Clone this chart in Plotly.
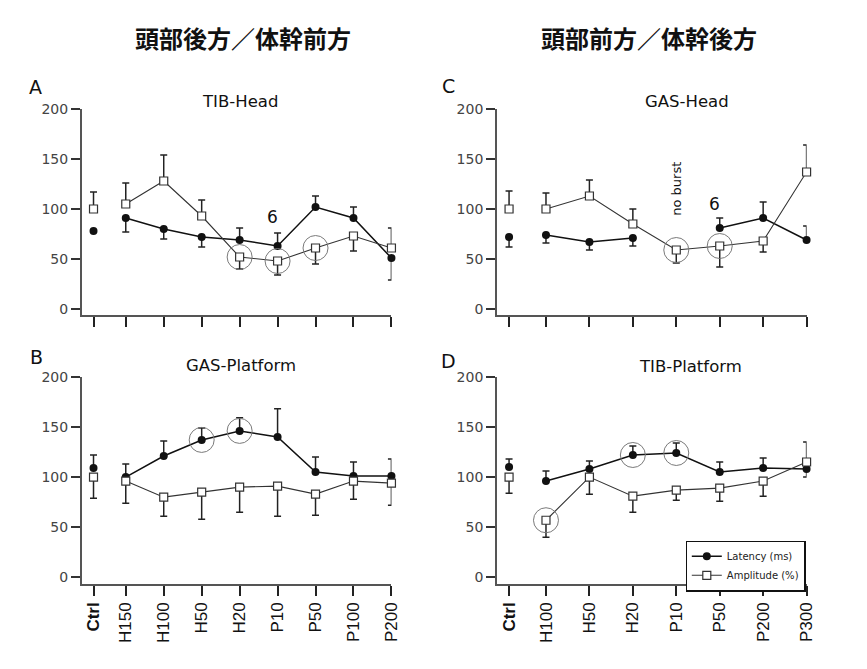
import plotly.graph_objects as go

# ---------------- data ----------------
cats_left = ["Ctrl", "H150", "H100", "H50", "H20", "P10", "P50", "P100", "P200"]
cats_right = ["Ctrl", "H100", "H50", "H20", "P10", "P50", "P200", "P300"]

# A: TIB-Head
a_lat = [78, 91, 80, 72, 69, 63, 102, 91, 51]
a_lat_up = [0, 0, 0, 0, 12, 13, 11, 11, 0]
a_lat_dn = [0, 14, 10, 10, 0, 0, 0, 0, 22]
a_amp = [100, 105, 128, 93, 52, 48, 61, 73, 61]
a_amp_up = [17, 21, 26, 16, 0, 0, 0, 0, 20]
a_amp_dn = [0, 0, 0, 0, 12, 14, 16, 15, 0]
a_hl_amp = ["H20", "P10", "P50"]
a_hl_lat = []

# B: GAS-Platform
b_lat = [109, 100, 121, 137, 146, 140, 105, 101, 101]
b_lat_up = [13, 13, 15, 12, 13, 28, 15, 14, 17]
b_lat_dn = [0, 0, 0, 0, 0, 0, 0, 0, 0]
b_amp = [100, 96, 80, 85, 90, 91, 83, 96, 94]
b_amp_up = [0, 0, 0, 0, 0, 0, 0, 0, 0]
b_amp_dn = [21, 22, 19, 27, 25, 30, 21, 18, 22]
b_hl_amp = []
b_hl_lat = ["H50", "H20"]

# C: GAS-Head
c_lat = [72, 74, 67, 71, None, 81, 91, 69]
c_lat_up = [0, 0, 0, 0, 0, 10, 16, 14]
c_lat_dn = [10, 8, 8, 8, 0, 0, 0, 0]
c_amp = [100, 100, 113, 85, 59, 63, 68, 137]
c_amp_up = [18, 16, 16, 15, 0, 0, 0, 27]
c_amp_dn = [0, 0, 0, 0, 13, 21, 11, 0]
c_hl_amp = ["P10", "P50"]
c_hl_lat = []

# D: TIB-Platform
d_lat = [110, 96, 108, 122, 124, 105, 109, 108]
d_lat_up = [8, 10, 8, 9, 10, 10, 10, 0]
d_lat_dn = [0, 0, 0, 0, 0, 0, 0, 8]
d_amp = [100, 57, 100, 81, 87, 89, 96, 115]
d_amp_up = [0, 0, 0, 0, 0, 0, 0, 20]
d_amp_dn = [16, 17, 17, 16, 10, 13, 15, 0]
d_hl_amp = ["H100"]
d_hl_lat = ["H20", "P10"]

y_ticks = [0, 50, 100, 150, 200]

# ---------------- layout constants ----------------
W, H = 867, 669
CTRL_POS = 0.15  # Ctrl sits a little closer to the first condition


def xpos(cats):
    return [CTRL_POS] + list(range(1, len(cats)))


FONT = "DejaVu Sans"
LAT_COLOR = "#111111"
AMP_LINE = "#333333"
ERR_COLOR = "#222222"

fig = go.Figure()

panels = [
    dict(cats=cats_left, lat=a_lat, lu=a_lat_up, ld=a_lat_dn, amp=a_amp, au=a_amp_up, ad=a_amp_dn,
         hla=a_hl_amp, hll=a_hl_lat, xa="x", ya="y"),
    dict(cats=cats_left, lat=b_lat, lu=b_lat_up, ld=b_lat_dn, amp=b_amp, au=b_amp_up, ad=b_amp_dn,
         hla=b_hl_amp, hll=b_hl_lat, xa="x2", ya="y2"),
    dict(cats=cats_right, lat=c_lat, lu=c_lat_up, ld=c_lat_dn, amp=c_amp, au=c_amp_up, ad=c_amp_dn,
         hla=c_hl_amp, hll=c_hl_lat, xa="x3", ya="y3"),
    dict(cats=cats_right, lat=d_lat, lu=d_lat_up, ld=d_lat_dn, amp=d_amp, au=d_amp_up, ad=d_amp_dn,
         hla=d_hl_amp, hll=d_hl_lat, xa="x4", ya="y4"),
]


def err(up, dn):
    return dict(type="data", symmetric=False, array=up, arrayminus=dn,
                color=ERR_COLOR, thickness=1.5, width=3.5)


lat_marker = dict(symbol="circle", size=8, color=LAT_COLOR, line=dict(width=0))
amp_marker = dict(symbol="square", size=8, color="white", line=dict(color="#333333", width=1.2))

for i, p in enumerate(panels):
    xs = xpos(p["cats"])
    show = (p["xa"] == "x4")
    # Latency: Ctrl alone, rest connected
    fig.add_trace(go.Scatter(x=xs[:1], y=p["lat"][:1], mode="markers", marker=lat_marker,
                             error_y=err(p["lu"][:1], p["ld"][:1]), xaxis=p["xa"], yaxis=p["ya"],
                             showlegend=False, cliponaxis=False))
    fig.add_trace(go.Scatter(x=xs[1:], y=p["lat"][1:], mode="lines+markers", marker=lat_marker,
                             line=dict(color=LAT_COLOR, width=1.5),
                             error_y=err(p["lu"][1:], p["ld"][1:]), xaxis=p["xa"], yaxis=p["ya"],
                             name="Latency (ms)", showlegend=show, cliponaxis=False))
    # Amplitude
    fig.add_trace(go.Scatter(x=xs[:1], y=p["amp"][:1], mode="markers", marker=amp_marker,
                             error_y=err(p["au"][:1], p["ad"][:1]), xaxis=p["xa"], yaxis=p["ya"],
                             showlegend=False, cliponaxis=False))
    fig.add_trace(go.Scatter(x=xs[1:], y=p["amp"][1:], mode="lines+markers", marker=amp_marker,
                             line=dict(color=AMP_LINE, width=1.1),
                             error_y=err(p["au"][1:], p["ad"][1:]), xaxis=p["xa"], yaxis=p["ya"],
                             name="Amplitude (%)", showlegend=show, cliponaxis=False))
    # highlight rings
    hx, hy = [], []
    for c in p["hla"]:
        k = p["cats"].index(c)
        hx.append(xs[k]); hy.append(p["amp"][k])
    for c in p["hll"]:
        k = p["cats"].index(c)
        hx.append(xs[k]); hy.append(p["lat"][k])
    if hx:
        fig.add_trace(go.Scatter(x=hx, y=hy, mode="markers",
                                 marker=dict(symbol="circle-open", size=25, color="#7a7a7a",
                                             line=dict(width=1)),
                                 xaxis=p["xa"], yaxis=p["ya"], showlegend=False, cliponaxis=False,
                                 hoverinfo="skip"))

# ---------------- axes ----------------
left_dom = [82.7 / W, 396 / W]
right_dom = [502.7 / W, 816 / W]
top_dom = [1 - 312 / H, 1 - 102.5 / H]
bot_dom = [1 - 584.5 / H, 1 - 374.3 / H]
YR = [-6.3, 200]


def xaxis(dom, cats, rng, anchor, labels):
    return dict(domain=dom, range=rng, anchor=anchor, showline=True, linecolor="#555555",
                linewidth=1.5, ticks="outside", ticklen=10, tickwidth=1.5, tickcolor="#222222",
                tickvals=xpos(cats),
                ticktext=["<b>Ctrl</b>"] + cats[1:],
                tickangle=-90, showticklabels=labels, showgrid=False, zeroline=False,
                tickfont=dict(family="Liberation Sans", size=17, color="#111111"),
                fixedrange=True)


def yaxis(dom, anchor):
    return dict(domain=dom, range=YR, anchor=anchor, showline=True, linecolor="#555555",
                linewidth=1.5, ticks="outside", ticklen=9, tickwidth=1.5, tickcolor="#333333",
                tickvals=y_ticks, showgrid=False, zeroline=False,
                tickfont=dict(family=FONT, size=14, color="#444444"), fixedrange=True)


fig.update_layout(
    width=W, height=H, margin=dict(l=0, r=0, t=0, b=0),
    paper_bgcolor="white", plot_bgcolor="white",
    xaxis=xaxis(left_dom, cats_left, [-0.16, 8], "y", False),
    yaxis=yaxis(top_dom, "x"),
    xaxis2=xaxis(left_dom, cats_left, [-0.16, 8], "y2", True),
    yaxis2=yaxis(bot_dom, "x2"),
    xaxis3=xaxis(right_dom, cats_right, [-0.13, 7], "y3", False),
    yaxis3=yaxis(top_dom, "x3"),
    xaxis4=xaxis(right_dom, cats_right, [-0.13, 7], "y4", True),
    yaxis4=yaxis(bot_dom, "x4"),
    showlegend=True,
    legend=dict(x=815 / W, y=1 - 540.7 / H, xanchor="right", yanchor="top",
                bgcolor="white", bordercolor="#111111", borderwidth=1.2,
                font=dict(family=FONT, size=10, color="#222222"),
                itemwidth=30, tracegroupgap=0),
)

ann = []


def paper_text(text, px, py, size, bold=False, family=FONT, color="#111111"):
    ann.append(dict(text=("<b>%s</b>" % text) if bold else text, x=px / W, y=1 - py / H,
                    xref="paper", yref="paper", xanchor="center", yanchor="middle",
                    showarrow=False, font=dict(family=family, size=size, color=color)))


paper_text("頭部後方／体幹前方", 246, 30, 24, bold=True, family="Noto Sans CJK JP")
paper_text("頭部前方／体幹後方", 657, 30, 24, bold=True, family="Noto Sans CJK JP")
paper_text("A", 36, 80, 19)
paper_text("B", 36.5, 354, 19)
paper_text("C", 453.5, 79.5, 19)
paper_text("D", 454, 358, 19)
paper_text("TIB-Head", 242.5, 95, 16.5)
paper_text("GAS-Platform", 243.7, 363.3, 16.5)
paper_text("GAS-Head", 695.5, 95, 16.5)
paper_text("TIB-Platform", 698.3, 364.3, 16.5)

# in-plot notes (data coordinates)
ann.append(dict(text="6", x=4.875, y=92, xref="x", yref="y", showarrow=False,
                font=dict(family=FONT, size=17, color="#111111")))
ann.append(dict(text="6", x=4.886, y=105, xref="x3", yref="y3", showarrow=False,
                font=dict(family=FONT, size=17, color="#111111")))
ann.append(dict(text="no burst", x=4, y=120.5, xref="x3", yref="y3", showarrow=False,
                textangle=-90, font=dict(family=FONT, size=13, color="#111111")))

fig.update_layout(annotations=ann)

fig.write_html("out.html", config={"displayModeBar": False},
               post_script="document.body.style.margin='0';document.body.style.overflow='hidden';")
